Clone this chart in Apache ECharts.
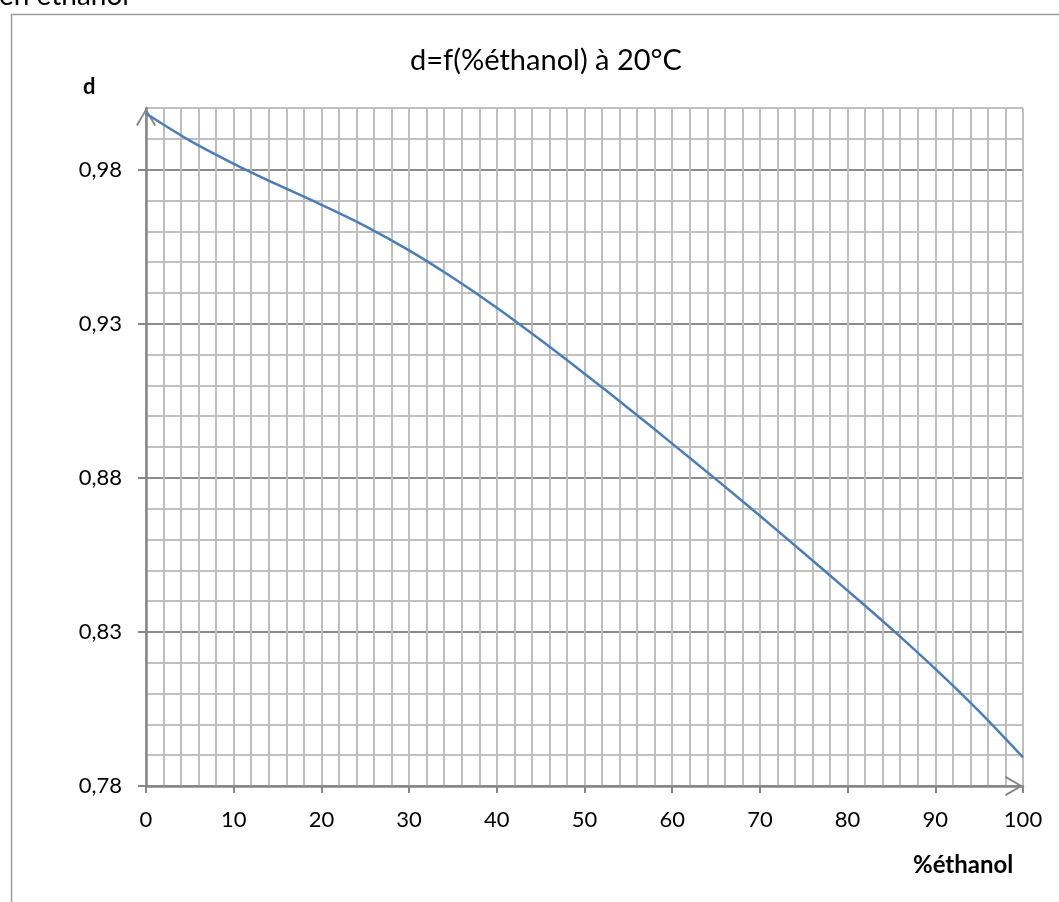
<!DOCTYPE html>
<html>
<head>
<meta charset="utf-8">
<script src="https://cdn.jsdelivr.net/npm/echarts@6/dist/echarts.min.js"></script>
<style>
html,body{margin:0;padding:0;background:#fff;}
#c{width:1059px;height:902px;}
</style>
</head>
<body>
<div id="c"></div>
<script>
var ethanolPercent = [0, 5, 10, 15, 20, 25, 30, 35, 40, 45, 50, 55, 60, 65, 70, 75, 80, 85, 90, 95, 100];
var densityValues = [0.9982, 0.9894, 0.9819, 0.9751, 0.9686, 0.9617, 0.9538, 0.9449, 0.9352, 0.9247, 0.9138, 0.9026, 0.8911, 0.8795, 0.8677, 0.8556, 0.8434, 0.8310, 0.8180, 0.8042, 0.7893];
var yTickLabels = [0.78, 0.83, 0.88, 0.93, 0.98];
var xTickLabels = [0, 10, 20, 30, 40, 50, 60, 70, 80, 90, 100];
var titleText = 'd=f(%éthanol) à 20°C';
var yAxisName = 'd';
var xAxisName = '%éthanol';
var topText = 'en éthanol';

var font = 'Lato, "Open Sans", sans-serif';
var chevron = 'path://M0,17 L10,0 L20,17 L18.3,18 L10,3.6 L1.7,18 Z';
var axisGray = '#868686';

var chart = echarts.init(document.getElementById('c'), null, {renderer: 'canvas'});
chart.setOption({
  animation: false,
  backgroundColor: '#fff',
  title: {
    text: titleText,
    left: 541, top: 41, textAlign: 'center',
    textStyle: {fontFamily: font, fontSize: 29, fontWeight: 'normal', color: '#000'}
  },
  graphic: [
    {type: 'rect', shape: {x: 11.5, y: 14.5, width: 1100, height: 950}, style: {fill: 'none', stroke: '#9A9A9A', lineWidth: 1.5}, silent: true, z: 0},
    {type: 'text', x: -1, y: 10, style: {text: topText, font: '28px ' + font, fill: '#000', verticalAlign: 'bottom'}},
    {type: 'text', x: 83, y: 76, style: {text: yAxisName, font: 'bold 22px ' + font, fill: '#000'}},
    {type: 'text', x: 913, y: 853, style: {text: xAxisName, font: 'bold 24px ' + font, fill: '#000'}}
  ],
  grid: {left: 146, right: 36, top: 108, bottom: 116, containLabel: false},
  xAxis: [{
    type: 'value', min: 0, max: 100, interval: 2,
    axisLine: {show: false},
    axisTick: {show: false},
    axisLabel: {show: false},
    splitLine: {show: true, lineStyle: {color: '#BEBEBE', width: 2}}
  }, {
    type: 'value', min: 0, max: 100, position: 'bottom',
    axisLine: {show: true, onZero: false, lineStyle: {color: axisGray, width: 2.5}, symbol: ['none', chevron], symbolSize: [20, 18], symbolOffset: [0, -9]},
    axisTick: {show: true, customValues: xTickLabels, length: 7, lineStyle: {color: axisGray, width: 2}},
    axisLabel: {customValues: xTickLabels, margin: 23, fontFamily: font, fontSize: 22, color: '#000'},
    splitLine: {show: false}
  }],
  yAxis: [{
    type: 'value', min: 0.78, max: 1.0, interval: 0.01,
    axisLine: {show: false},
    axisTick: {show: false},
    axisLabel: {show: false},
    splitLine: {show: true, lineStyle: {color: ['#8C8C8C', '#C0C0C0', '#C0C0C0', '#C0C0C0', '#C0C0C0'], width: 2}}
  }, {
    type: 'value', min: 0.78, max: 1.0, position: 'left',
    axisLine: {show: true, onZero: false, lineStyle: {color: axisGray, width: 2.5}, symbol: ['none', chevron], symbolSize: [20, 18], symbolOffset: [0, -9]},
    axisTick: {show: true, customValues: yTickLabels, length: 8, lineStyle: {color: axisGray, width: 2}},
    axisLabel: {customValues: yTickLabels, margin: 24, fontFamily: font, fontSize: 22, color: '#000',
      formatter: function (v) { return v.toFixed(2).replace('.', ','); }},
    splitLine: {show: false}
  }],
  series: [{
    type: 'line',
    xAxisIndex: 0, yAxisIndex: 0,
    data: ethanolPercent.map(function (x, i) { return [x, densityValues[i]]; }),
    showSymbol: false,
    smooth: 0.3,
    lineStyle: {color: '#4A7EBB', width: 2.5},
    z: 5
  }]
});
</script>
</body>
</html>
